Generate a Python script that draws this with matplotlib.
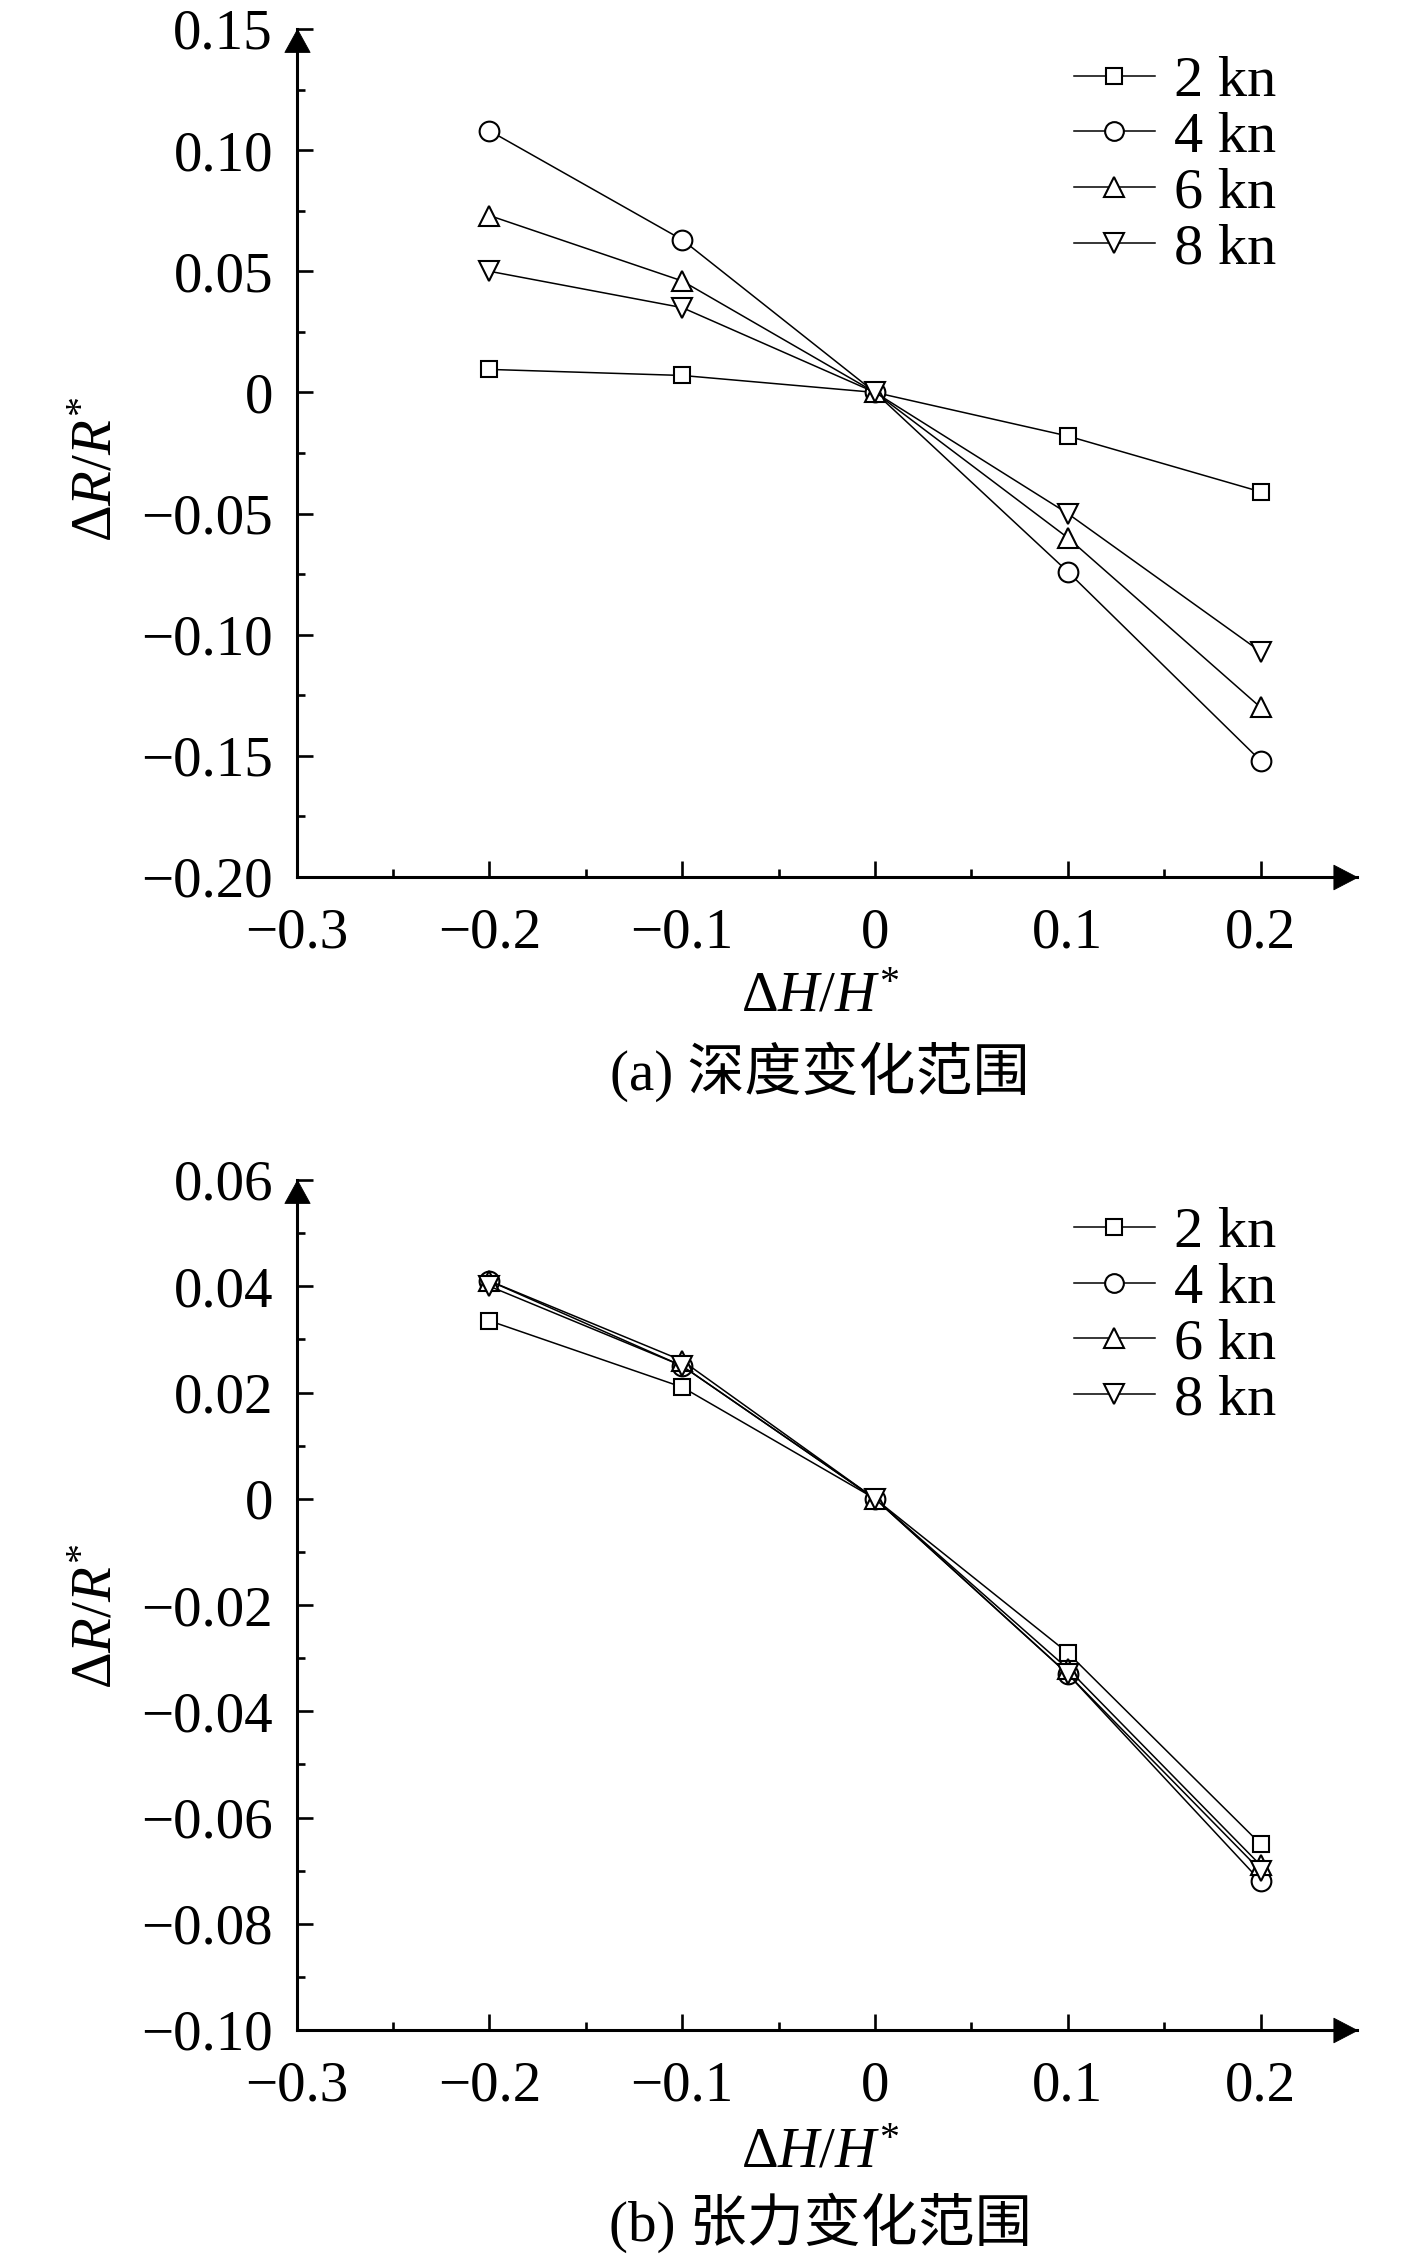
import matplotlib
matplotlib.use('Agg')
import matplotlib.pyplot as plt
from matplotlib.path import Path
from matplotlib.ticker import FixedLocator, FixedFormatter

plt.rcParams['font.family'] = ['Liberation Serif', 'Noto Sans CJK SC']
plt.rcParams['mathtext.fontset'] = 'custom'
plt.rcParams['mathtext.rm'] = 'Liberation Serif'
plt.rcParams['mathtext.it'] = 'Liberation Serif:italic'
plt.rcParams['mathtext.bf'] = 'Liberation Serif:bold'

# ---------------- data ----------------
x_vals = [-0.2, -0.1, 0.0, 0.1, 0.2]
series_labels = ['2 kn', '4 kn', '6 kn', '8 kn']

# (a) depth range
depth_2kn = [0.0095, 0.007, 0.0, -0.018, -0.041]
depth_4kn = [0.108, 0.063, 0.0, -0.074, -0.152]
depth_6kn = [0.073, 0.046, 0.0, -0.060, -0.130]
depth_8kn = [0.050, 0.035, 0.0, -0.050, -0.107]

# (b) tension range
tension_2kn = [0.0335, 0.021, 0.0, -0.029, -0.065]
tension_4kn = [0.041, 0.025, 0.0, -0.033, -0.072]
tension_6kn = [0.041, 0.026, 0.0, -0.032, -0.069]
tension_8kn = [0.040, 0.025, 0.0, -0.033, -0.070]

x_ticks = [-0.3, -0.2, -0.1, 0.0, 0.1, 0.2]
x_tick_labels = ['\u22120.3', '\u22120.2', '\u22120.1', '0', '0.1', '0.2']
x_minor = [-0.25, -0.15, -0.05, 0.05, 0.15]

a_yticks = [0.15, 0.10, 0.05, 0.0, -0.05, -0.10, -0.15, -0.20]
a_ytick_labels = ['0.15', '0.10', '0.05', '0', '\u22120.05', '\u22120.10', '\u22120.15', '\u22120.20']
a_yminor = [0.125, 0.075, 0.025, -0.025, -0.075, -0.125, -0.175]

b_yticks = [0.06, 0.04, 0.02, 0.0, -0.02, -0.04, -0.06, -0.08, -0.10]
b_ytick_labels = ['0.06', '0.04', '0.02', '0', '\u22120.02', '\u22120.04', '\u22120.06', '\u22120.08', '\u22120.10']
b_yminor = [0.05, 0.03, 0.01, -0.01, -0.03, -0.05, -0.07, -0.09]

xlabel_text = r'$\Delta H/H^{*}$'
ylabel_text = r'$\Delta R/R^{*}$'
caption_a = '(a) 深度变化范围'
caption_b = '(b) 张力变化范围'

# ---------------- styles ----------------
W, H = 1417, 2258
DPI = 100
FS = 41
styles = [
    dict(marker='s', ms=12.2),
    dict(marker='o', ms=14.2),
    dict(marker='^', ms=15.0),
    dict(marker='v', ms=15.0),
]

arrow_up = Path([(0, 0), (-0.55, -1), (0.55, -1), (0, 0)],
                [Path.MOVETO, Path.LINETO, Path.LINETO, Path.CLOSEPOLY])
arrow_right = Path([(0, 0), (-1, 0.52), (-1, -0.52), (0, 0)],
                   [Path.MOVETO, Path.LINETO, Path.LINETO, Path.CLOSEPOLY])

fig = plt.figure(figsize=(W / DPI, H / DPI), dpi=DPI)


def px_axes(left, top, right, bottom):
    return [left / W, 1 - bottom / H, (right - left) / W, (bottom - top) / H]


def make_panel(rect, series, ylim, yticks, ylabels, yminor, caption, xlabel_y, cap_y, ylab_y):
    ax = fig.add_axes(rect)
    for vals, lab, st in zip(series, series_labels, styles):
        ax.plot(x_vals, vals, color='black', lw=1.1, marker=st['marker'], ms=st['ms'],
                mfc='white', mec='black', mew=1.5, label=lab, clip_on=False)
    ax.set_xlim(-0.3, 0.25)
    ax.set_ylim(*ylim)
    for s in ['top', 'right']:
        ax.spines[s].set_visible(False)
    for s in ['left', 'bottom']:
        ax.spines[s].set_linewidth(2.2)
        ax.spines[s].set_capstyle('projecting')
    ax.xaxis.set_major_locator(FixedLocator(x_ticks))
    ax.xaxis.set_major_formatter(FixedFormatter(x_tick_labels))
    ax.xaxis.set_minor_locator(FixedLocator(x_minor))
    ax.yaxis.set_major_locator(FixedLocator(yticks))
    ax.yaxis.set_major_formatter(FixedFormatter(ylabels))
    ax.yaxis.set_minor_locator(FixedLocator(yminor))
    ax.tick_params(axis='both', which='major', direction='in', length=11.5, width=1.9,
                   labelsize=FS)
    ax.tick_params(axis='both', which='minor', direction='in', length=5.8, width=1.9)
    ax.tick_params(axis='x', which='major', pad=22)
    ax.tick_params(axis='y', which='major', pad=17)
    # arrows at axis ends
    ax.plot([0], [1], marker=arrow_up, ms=33, color='black', mew=0.6,
            transform=ax.transAxes, clip_on=False)
    ax.plot([1], [0], marker=arrow_right, ms=34, color='black', mew=0.6,
            transform=ax.transAxes, clip_on=False)
    ax.legend(loc='upper left', bbox_to_anchor=(0.733, 0.969), frameon=False,
              fontsize=42, handlelength=1.39, handletextpad=0.33, labelspacing=0.05,
              borderpad=0, borderaxespad=0, markerscale=0.95)
    fig.text(820 / W, 1 - xlabel_y / H, xlabel_text, fontsize=FS, ha='center', va='center')
    fig.text(820 / W, 1 - cap_y / H, caption, fontsize=FS, ha='center', va='center')
    fig.text(98 / W, 1 - ylab_y / H, ylabel_text, fontsize=FS, ha='center', va='center',
             rotation=90)
    return ax


make_panel(px_axes(296.7, 29, 1357, 877),
           [depth_2kn, depth_4kn, depth_6kn, depth_8kn],
           (-0.20, 0.15), a_yticks, a_ytick_labels, a_yminor, caption_a,
           997, 1072, 469)
make_panel(px_axes(296.7, 1180, 1357, 2030),
           [tension_2kn, tension_4kn, tension_6kn, tension_8kn],
           (-0.10, 0.06), b_yticks, b_ytick_labels, b_yminor, caption_b,
           2153, 2223, 1616)

fig.savefig('out.png', dpi=DPI)
